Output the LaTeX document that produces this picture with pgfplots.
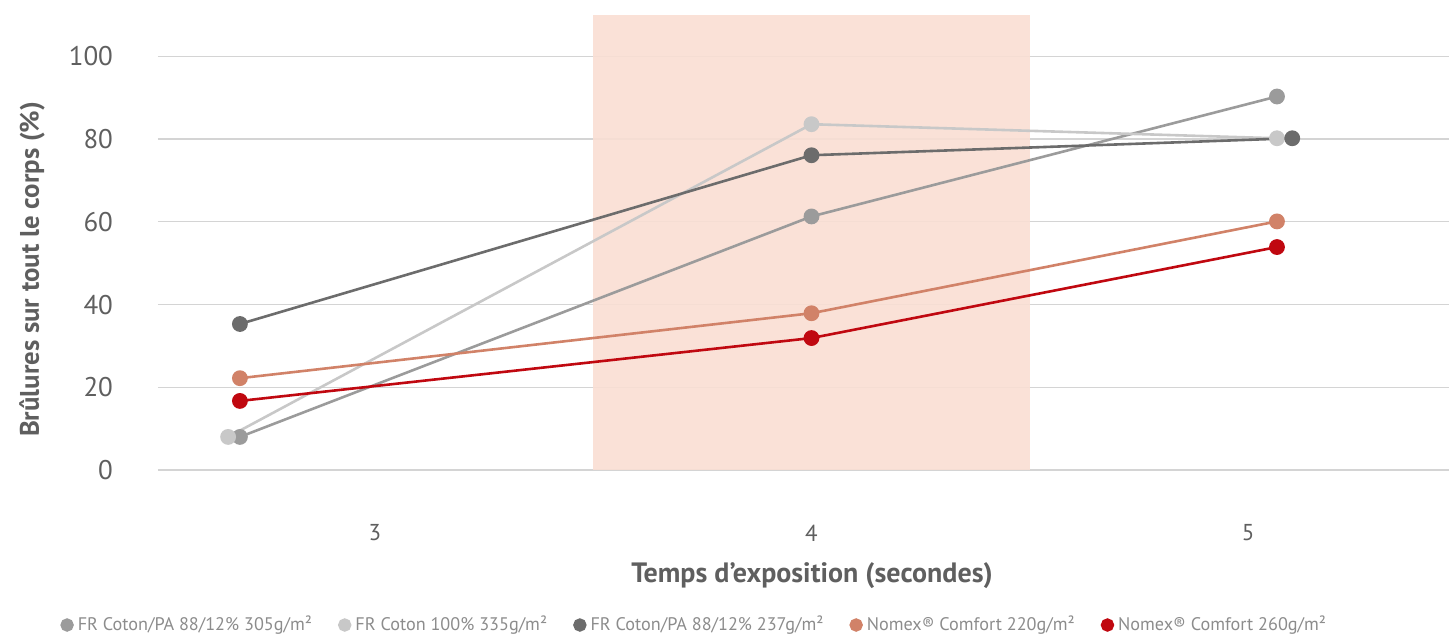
\documentclass[border=0pt]{standalone}
\usepackage{pgfplots}
\pgfplotsset{compat=1.18}
\usepackage{fontspec}
\setmainfont{PT Sans}
\definecolor{cA}{RGB}{155,155,155}
\definecolor{cB}{RGB}{200,200,200}
\definecolor{cC}{RGB}{108,108,108}
\definecolor{cD}{RGB}{209,130,104}
\definecolor{cE}{RGB}{192,8,16}
\definecolor{shade}{RGB}{249,222,211}
\definecolor{gridc}{RGB}{212,212,212}
\definecolor{txt}{RGB}{95,95,95}
\definecolor{legtxt}{RGB}{140,140,140}
\begin{document}
\begin{tikzpicture}
\useasboundingbox (-79pt,-82pt) rectangle (645.5pt,235pt);
\begin{axis}[
  at={(0pt,0pt)}, anchor=south west,
  scale only axis, width=645.5pt, height=227.5pt,
  xmin=2.5034, xmax=5.46, ymin=0, ymax=110,
  axis line style={draw=none},
  xtick={3,4,5}, ytick={0,20,40,60,80,100},
  ymajorgrids, grid style={gridc, line width=0.6pt},
  major tick length=0pt,
  /pgf/number format/assume math mode=true,
  xticklabel style={font=\fontsize{11.5}{12}\selectfont, text=txt, anchor=center, yshift=-31.5pt},
  yticklabel style={font=\fontsize{13.5}{14}\selectfont, text=txt, anchor=east, xshift=-19pt},
  xlabel={Temps d’exposition (secondes)},
  ylabel={Brûlures sur tout le corps (\%)},
  xlabel style={at={(axis description cs:0.5066,-0.231)}, anchor=center, font=\bfseries\fontsize{14}{15}\selectfont, text=txt},
  ylabel style={at={(axis description cs:-0.0976,0.441)}, anchor=center, font=\bfseries\fontsize{13.4}{14}\selectfont, text=txt},
  legend columns=5,
  legend style={at={(axis description cs:0,0)}, anchor=west, xshift=-49pt, yshift=-77.5pt, draw=none, fill=none,
    font=\fontsize{9.1}{10}\selectfont, text=legtxt, inner sep=0pt,
    /tikz/every even column/.append style={column sep=11pt}},
  legend image code/.code={\fill[#1] (0.14cm,0cm) circle (2.7pt);},
  every axis plot/.append style={line width=1.3pt, mark=*, mark size=3.3pt},
]
\addplot[fill=shade, fill opacity=0.9, draw=none, mark=none, forget plot] coordinates {(3.5,110) (4.5,110)} \closedcycle;
\addplot[color=cA, mark options={fill=cA}] coordinates {(2.691,8.0) (4.0,61.3) (5.066,90.3)};
\addlegendentry{FR Coton/PA 88/12\% 305g/m²}
\addplot[color=cB, mark options={fill=cB}] coordinates {(2.664,8.0) (4.0,83.6) (5.066,80.2)};
\addlegendentry{FR Coton 100\% 335g/m²}
\addplot[color=cC, mark options={fill=cC}] coordinates {(2.691,35.3) (4.0,76.1) (5.101,80.2)};
\addlegendentry{FR Coton/PA 88/12\% 237g/m²}
\addplot[color=cD, mark options={fill=cD}] coordinates {(2.691,22.2) (4.0,37.9) (5.066,60.1)};
\addlegendentry{Nomex® Comfort 220g/m²}
\addplot[color=cE, mark options={fill=cE}] coordinates {(2.691,16.7) (4.0,31.9) (5.066,53.9)};
\addlegendentry{Nomex® Comfort 260g/m²}
\end{axis}
\end{tikzpicture}
\end{document}
